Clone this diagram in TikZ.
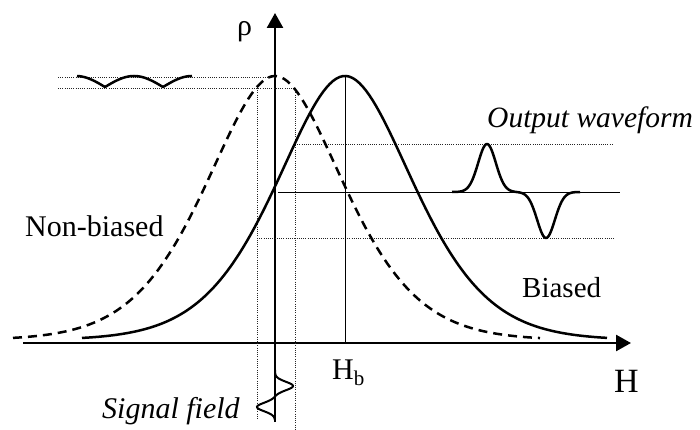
\documentclass[tikz,border=0pt]{standalone}
\usepackage{fontspec}
\setmainfont{Liberation Serif}
\usetikzlibrary{arrows.meta}

\tikzset{
  declare function={rmr(\d)=exp(-((\d/100)*(\d/100)/(0.715+0.27*abs(\d/100))));
                    pulse(\d,\w)=exp(-(\d/\w)*(\d/\w));},
  curve/.style={line width=2.5pt,line join=round},
  axis/.style={line width=2.5pt,-{Triangle[length=15pt,width=16pt]}},
  guide/.style={line width=0.7pt,dash pattern=on 1pt off 1.2pt,black!85},
  thinline/.style={line width=0.9pt},
  lbl/.style={font=\fontsize{30}{32}\selectfont,inner sep=0pt,anchor=base west}
}

\begin{document}
\begin{tikzpicture}[x=1pt,y=-1pt]
\useasboundingbox (0,0) rectangle (700,430);

% axes
\coordinate (hstart) at (23,343);
\coordinate (hend) at (631,343);
\coordinate (vstart) at (275,422);
\coordinate (vend) at (275,13);
\draw[axis] (hstart) -- (hend);
\draw[axis] (vstart) -- (vend);

% guide lines
\draw[guide] (58,77) -- (275,77);
\draw[guide] (58,88) -- (295,88);
\draw[guide] (257,88) -- (257,420);
\draw[guide] (295,88) -- (295,430);
\draw[guide] (295,144) -- (612,144);
\draw[guide] (257,238) -- (615,238);
\draw[thinline] (278,192) -- (620,192);
\draw[thinline] (345,76) -- (345,343);

% non-biased and biased curves
\draw[curve,dash pattern=on 9pt off 6pt] plot[domain=-262:265,samples=160]
  ({275+\x},{340-264*rmr(\x)});
\draw[curve] plot[domain=-263:262,samples=160]
  ({345+\x},{340-264*rmr(\x)});

% waveforms
\draw[curve] plot[domain=77:192,samples=120]
  (\x,{87-11*abs(cos(180*(\x-134)/58))});
\draw[curve] plot[domain=452:580,samples=120]
  (\x,{192-48*pulse(\x-487,12.5)+46*pulse(\x-546,12.5)});
\draw[line width=2pt] plot[domain=370:420,samples=100]
  ({275+18*pulse(\x-386,6)-18*pulse(\x-407,6)},\x);

% labels
\node[lbl] (rho) at (237,36) {ρ};
\node[lbl] (nonbiased) at (25,236) {Non-biased};
\node[lbl,font=\fontsize{29}{31}\selectfont] (biased) at (522,297) {Biased};
\node[lbl,font=\fontsize{29.5}{31}\selectfont] (output) at (487,128) {\itshape Output waveform};
\node[lbl] (signal) at (102,418) {\itshape Signal field};
\node[lbl] (hb) at (332,379) {H\textsubscript{b}};
\node[lbl,font=\fontsize{34}{36}\selectfont] (hfield) at (614,392) {H};
\end{tikzpicture}
\end{document}
